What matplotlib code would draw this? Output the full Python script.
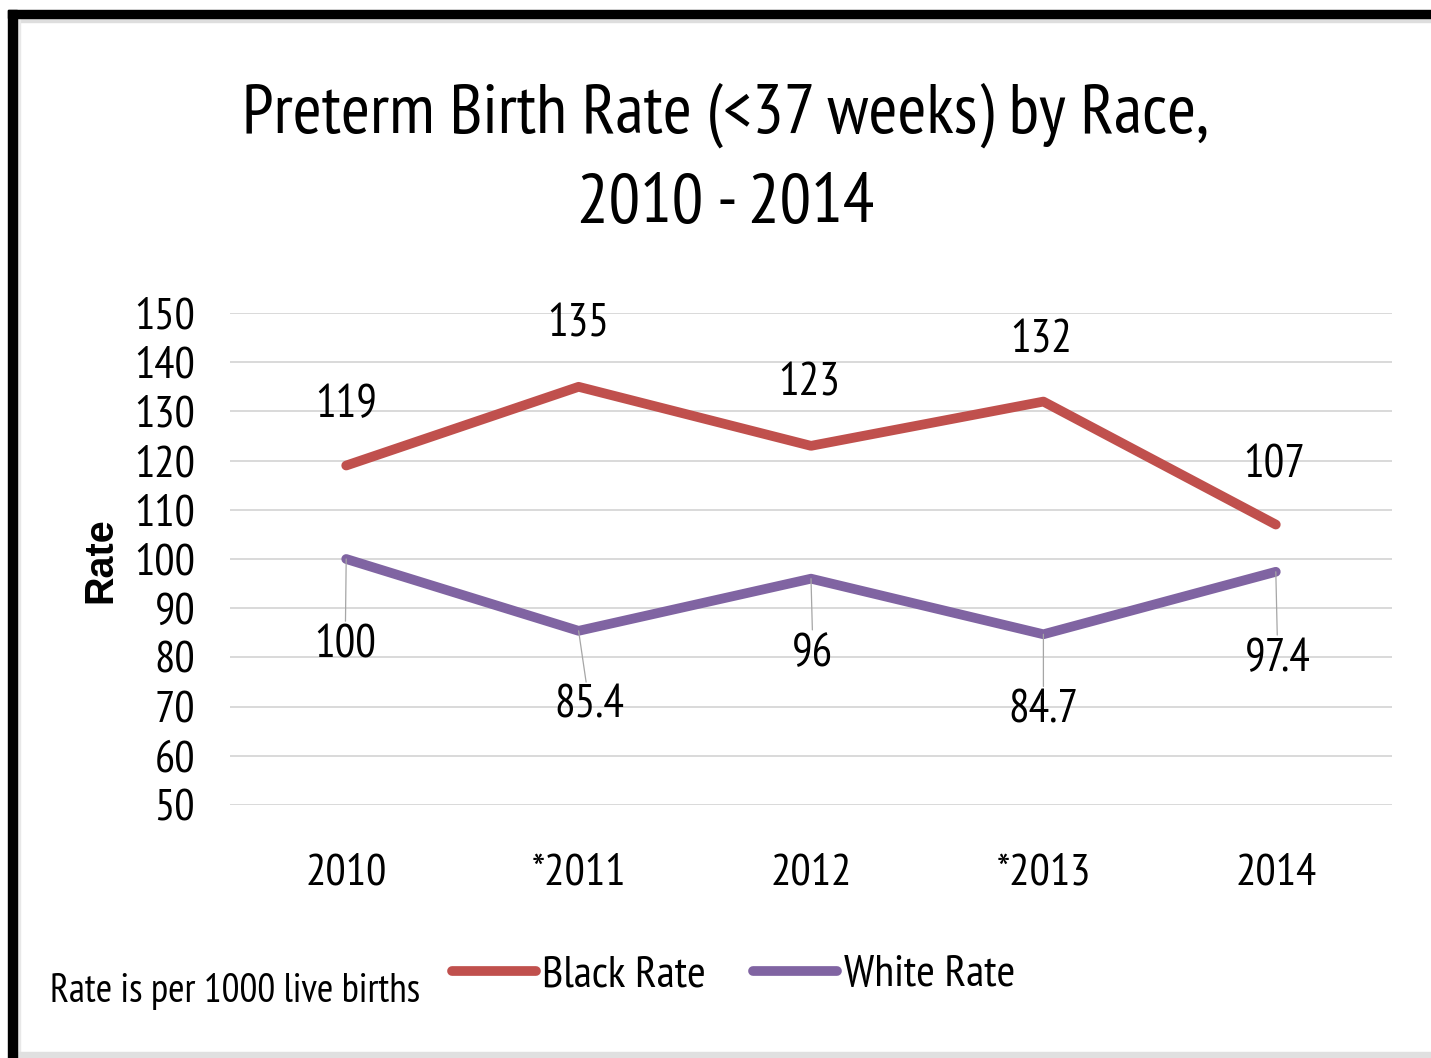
import matplotlib.pyplot as plt
from matplotlib.patches import Rectangle
from matplotlib.lines import Line2D

plt.rcParams['font.family'] = ['PT Sans Narrow', 'DejaVu Sans']

# data
years = ['2010', '*2011', '2012', '*2013', '2014']
black_rate = [119, 135, 123, 132, 107]
white_rate = [100, 85.4, 96, 84.7, 97.4]
black_labels = ['119', '135', '123', '132', '107']
white_labels = ['100', '85.4', '96', '84.7', '97.4']
yticks = [50, 60, 70, 80, 90, 100, 110, 120, 130, 140, 150]

RED = '#c0504d'
PURPLE = '#8064a2'
GRID = '#d9d9d9'

W, H = 1431, 1058
fig = plt.figure(figsize=(W / 100, H / 100), dpi=100)


def px(x0, y0, w, h):
    # pixel box (top-left origin) -> figure fraction rect
    return [x0 / W, 1 - (y0 + h) / H, w / W, h / H]


ax = fig.add_axes(px(230, 313, 1162, 492))
x = range(len(years))
ax.plot(x, black_rate, color=RED, lw=7, solid_capstyle='round',
        solid_joinstyle='round', zorder=3)
ax.plot(x, white_rate, color=PURPLE, lw=7, solid_capstyle='round',
        solid_joinstyle='round', zorder=3)

ax.set_xlim(-0.5, len(years) - 0.5)
ax.set_ylim(50, 150)
ax.set_yticks(yticks)
ax.set_xticks(list(x))
ax.set_xticklabels(years)
ax.grid(axis='y', color=GRID, lw=1.4)
ax.set_axisbelow(True)
for s in ax.spines.values():
    s.set_visible(False)
ax.tick_params(axis='both', length=0, labelsize=32.5, colors='black')
ax.tick_params(axis='y', pad=25)
ax.tick_params(axis='x', pad=35)

# label offsets in pixels (dx, dy), dy negative = below
black_off = [(0, 60), (0, 62), (-2, 62), (-2, 61), (-2, 59)]
white_off = [(-1, -86), (11, -75), (2, -75), (0, -76), (2, -87)]

for i, (v, t) in enumerate(zip(black_rate, black_labels)):
    dx, dy = black_off[i]
    ax.annotate(t, (i, v), xytext=(dx * 0.72, dy * 0.72),
                textcoords='offset points', ha='center', va='center',
                fontsize=33)
for i, (v, t) in enumerate(zip(white_rate, white_labels)):
    dx, dy = white_off[i]
    ax.annotate(t, (i, v), xytext=(dx * 0.72, dy * 0.72),
                textcoords='offset points', ha='center', va='center',
                fontsize=33,
                arrowprops=dict(arrowstyle='-', color='#a6a6a6', lw=0.9,
                                shrinkA=0, shrinkB=0))

fig.text(726 / W, 1 - 115 / H, 'Preterm Birth Rate (<37 weeks) by Race,',
         ha='center', va='center', fontsize=50.5)
fig.text(726 / W, 1 - 205 / H, '2010 - 2014',
         ha='center', va='center', fontsize=50.5)
fig.text(100 / W, 1 - 560 / H, 'Rate', rotation=90, ha='center', va='center',
         fontsize=28.5, fontweight='bold', family=['Liberation Sans', 'DejaVu Sans'])
fig.text(50 / W, 1 - 992 / H, 'Rate is per 1000 live births',
         ha='left', va='center', fontsize=28.5)

handles = [Line2D([], [], color=RED, lw=7, solid_capstyle='round'),
           Line2D([], [], color=PURPLE, lw=7, solid_capstyle='round')]
fig.legend(handles, ['Black Rate', 'White Rate'], loc='center left',
           bbox_to_anchor=(452 / W, 1 - 975 / H), ncol=2, frameon=False,
           fontsize=32.5, handlelength=1.85, handletextpad=0.15,
           columnspacing=1.05, borderpad=0, borderaxespad=0)

# screenshot frame
fig.patches.append(Rectangle((8 / W, 1 - 18 / H), 1 - 8 / W, 8 / H,
                             transform=fig.transFigure, color='black', zorder=10))
fig.patches.append(Rectangle((8 / W, 0), 9 / W, 1 - 10 / H,
                             transform=fig.transFigure, color='black', zorder=10))
fig.patches.append(Rectangle((17 / W, 1 - 22 / H), 1, 4 / H,
                             transform=fig.transFigure, color='#dedede', zorder=9))
fig.patches.append(Rectangle((17 / W, 0), 3 / W, 1 - 18 / H,
                             transform=fig.transFigure, color='#e8e8e8', zorder=9))
fig.patches.append(Rectangle((17 / W, 0), 1, 6 / H,
                             transform=fig.transFigure, color='#e0e0e0', zorder=9))

fig.savefig('out.png', dpi=100)
